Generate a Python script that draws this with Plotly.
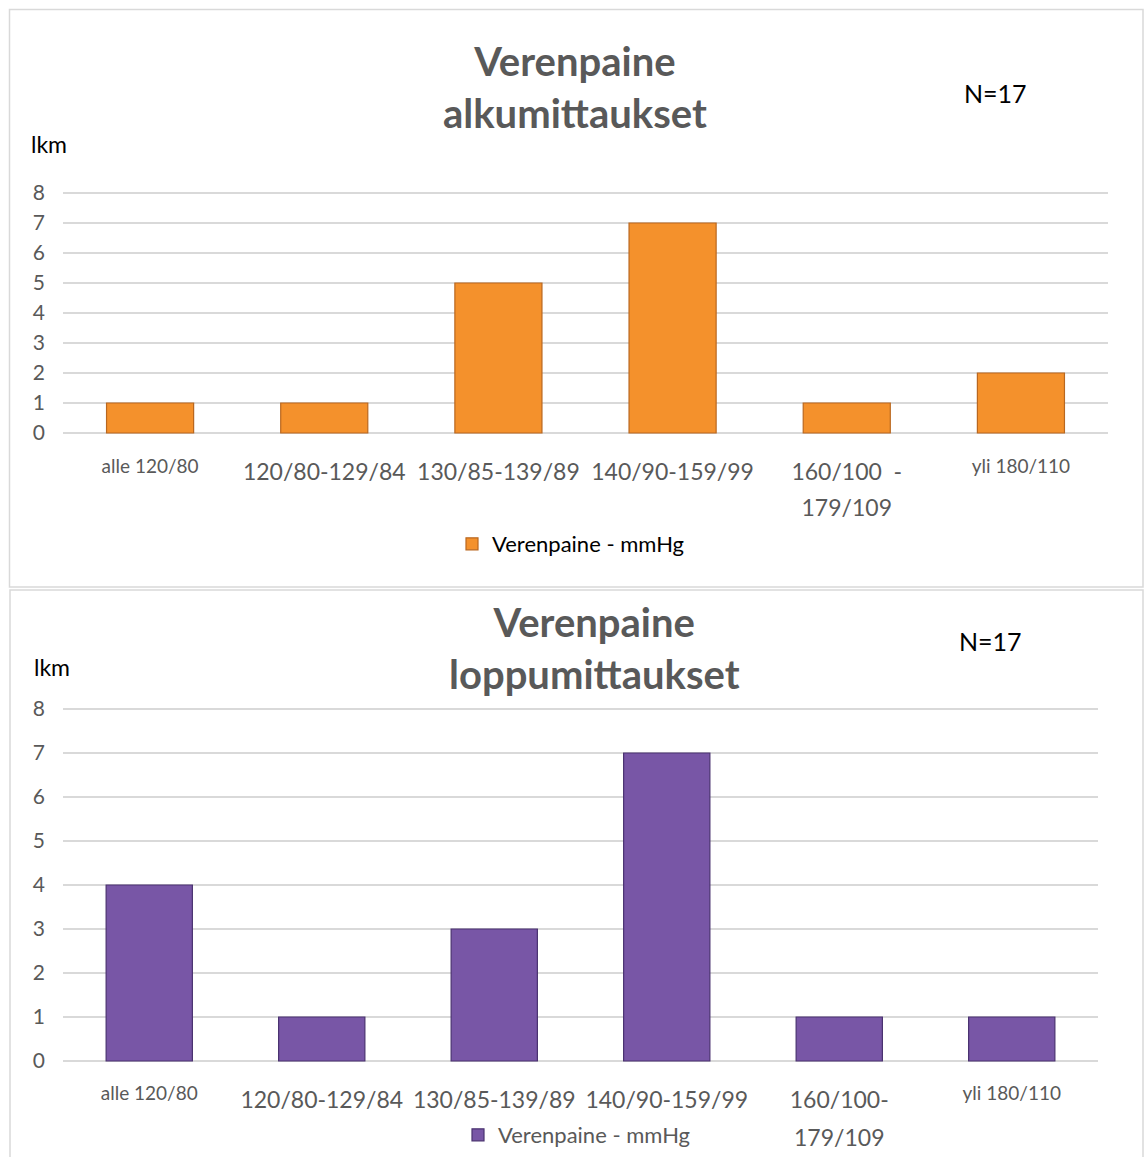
import plotly.graph_objects as go

W, H = 1144, 1157

categories = ["alle 120/80", "120/80-129/84", "130/85-139/89", "140/90-159/99", "160/100-179/109", "yli 180/110"]
tick_labels_top = ["alle 120/80", "120/80-129/84", "130/85-139/89", "140/90-159/99", "160/100  -<br>179/109", "yli 180/110"]
tick_labels_bottom = ["alle 120/80", "120/80-129/84", "130/85-139/89", "140/90-159/99", "160/100-<br>179/109", "yli 180/110"]
small_labels = {"alle 120/80", "yli 180/110"}
values_alku = [1, 1, 5, 7, 1, 2]
values_loppu = [4, 1, 3, 7, 1, 1]
y_ticks = [0, 1, 2, 3, 4, 5, 6, 7, 8]
series_name = "Verenpaine - mmHg"
title_top = "Verenpaine<br>alkumittaukset"
title_bottom = "Verenpaine<br>loppumittaukset"
n_text = "N=17"
y_title = "lkm"

FONT = "Lato"
GRAY = "#595959"
GRID = "#D9D9D9"
PAD = 0.05  # small range padding so the 0 and 8 grid lines are drawn


def px(x):
    return x / W


def py(y):
    return 1 - y / H


def ydomain(zero_px, unit_px, top_val):
    lo = zero_px + PAD * unit_px
    hi = zero_px - (top_val + PAD) * unit_px
    return [py(lo), py(hi)]


def styled(labels, big, small, shift):
    out = []
    for t in labels:
        if t in small_labels:
            style = "font-size:%dpx;baseline-shift:%dpx" % (small, shift)
        else:
            style = "font-size:%dpx" % big
        parts = t.split("<br>")
        out.append("<br>".join('<span style="%s">%s</span>' % (style, p) for p in parts))
    return out


fig = go.Figure()
fig.add_trace(go.Bar(
    x=categories, y=values_alku, name=series_name, width=0.5,
    marker=dict(color="#F4912C", line=dict(color="#B9671F", width=1.2)),
    xaxis="x", yaxis="y", legend="legend", showlegend=True,
))
fig.add_trace(go.Bar(
    x=categories, y=values_loppu, name=series_name, width=0.5,
    marker=dict(color="#7856A6", line=dict(color="#4A3270", width=1.2)),
    xaxis="x2", yaxis="y2", legend="legend2", showlegend=True,
))

axis_common = dict(showline=False, zeroline=False, ticks="", showgrid=False)
yaxis_common = dict(range=[-PAD, 8 + PAD], tickvals=y_ticks, showgrid=True, gridcolor=GRID, gridwidth=1.6,
                    zeroline=False, showline=False, ticks="",
                    tickfont=dict(family=FONT, size=21, color=GRAY))

fig.update_layout(
    width=W, height=H,
    margin=dict(l=0, r=0, t=0, b=0, autoexpand=False),
    paper_bgcolor="white", plot_bgcolor="white",
    font=dict(family=FONT, color=GRAY),
    xaxis=dict(domain=[px(63), px(1108)], anchor="y", tickvals=categories, ticktext=styled(tick_labels_top, 23, 19, 7),
               tickfont=dict(family=FONT, size=28, color=GRAY), ticklabelstandoff=16, automargin=False, **axis_common),
    yaxis=dict(domain=ydomain(433, 30, 8), anchor="x", ticklabelstandoff=17, automargin=False, **yaxis_common),
    xaxis2=dict(domain=[px(63), px(1098)], anchor="y2", tickvals=categories, ticktext=styled(tick_labels_bottom, 23, 19, 8),
                tickfont=dict(family=FONT, size=29, color=GRAY), ticklabelstandoff=15, automargin=False, **axis_common),
    yaxis2=dict(domain=ydomain(1061, 44, 8), anchor="x2", ticklabelstandoff=17, automargin=False, **yaxis_common),
    legend=dict(x=px(452), y=py(544), xanchor="left", yanchor="middle", orientation="h",
                font=dict(family=FONT, size=22, color="#000000"), bgcolor="rgba(0,0,0,0)", itemwidth=30),
    legend2=dict(x=px(458), y=py(1135), xanchor="left", yanchor="middle", orientation="h",
                 font=dict(family=FONT, size=22, color=GRAY), bgcolor="rgba(0,0,0,0)", itemwidth=30),
    bargap=0.5,
)

# chart frames
fig.add_shape(type="rect", xref="paper", yref="paper", x0=px(9.5), x1=px(1143), y0=py(587), y1=py(9.5),
              line=dict(color=GRID, width=1.5), fillcolor="rgba(0,0,0,0)", layer="below")
fig.add_shape(type="rect", xref="paper", yref="paper", x0=px(10), x1=px(1143), y0=py(1165), y1=py(590),
              line=dict(color=GRID, width=1.5), fillcolor="rgba(0,0,0,0)", layer="below")

ann = []
for title, tx, cy, nx, ny, lx, ly in [(title_top, 575, 87.5, 995, 93, 29, 144),
                                      (title_bottom, 594, 648, 990, 641, 32, 667)]:
    ann.append(dict(text="<b>" + title + "</b>", x=px(tx), y=py(cy), xref="paper", yref="paper",
                    showarrow=False, xanchor="center", yanchor="middle",
                    font=dict(family=FONT, size=40, color=GRAY)))
    ann.append(dict(text=n_text, x=px(nx), y=py(ny), xref="paper", yref="paper", showarrow=False,
                    xanchor="center", yanchor="middle", font=dict(family=FONT, size=25, color="#000000")))
    ann.append(dict(text=y_title, x=px(lx), y=py(ly), xref="paper", yref="paper", showarrow=False,
                    xanchor="left", yanchor="middle", font=dict(family=FONT, size=23, color="#000000")))
fig.update_layout(annotations=ann)

fig.write_html("out.html")
